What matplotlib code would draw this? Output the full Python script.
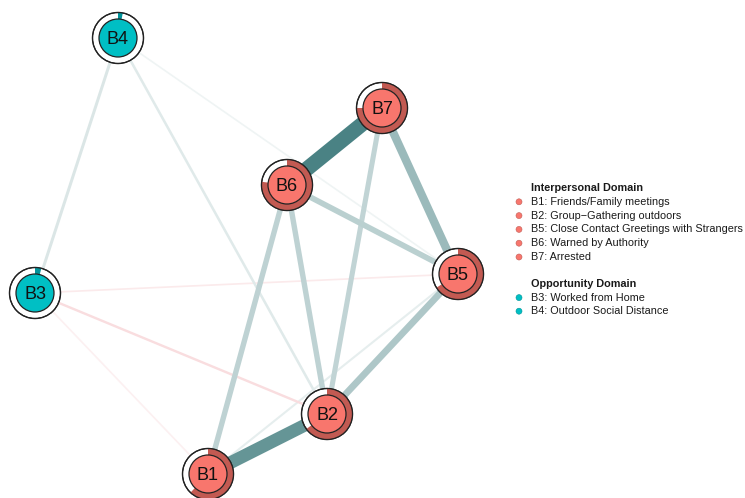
import matplotlib
matplotlib.use("Agg")
import matplotlib.pyplot as plt
from matplotlib.patches import Circle, Wedge
import numpy as np

plt.rcParams['font.family'] = ['Liberation Sans', 'DejaVu Sans']

# Nodes
nodes = ["B1", "B2", "B3", "B4", "B5", "B6", "B7"]
groups = ["Interpersonal", "Interpersonal", "Opportunity", "Opportunity",
          "Interpersonal", "Interpersonal", "Interpersonal"]
# layout (pixel space)
node_x = [208, 327, 35, 118, 458, 287, 382]
node_y = [474, 414, 293, 38, 274, 185, 108]
# pie (ring) values
pie_values = [0.62, 0.65, 0.04, 0.03, 0.66, 0.77, 0.75]

# Edges (weights)
edge_from = ["B6", "B1", "B7", "B2", "B6", "B6", "B6", "B7", "B4", "B4", "B1", "B4", "B3", "B3", "B3"]
edge_to   = ["B7", "B2", "B5", "B5", "B5", "B1", "B2", "B2", "B3", "B2", "B5", "B5", "B5", "B2", "B1"]
edge_w    = [1.00, 0.85, 0.55, 0.45, 0.38, 0.36, 0.36, 0.34, 0.20, 0.17, 0.14, 0.09, -0.10, -0.16, -0.07]

# Legend
legend_titles = ["Interpersonal Domain", "Opportunity Domain"]
legend_inter = ["B1: Friends/Family meetings", "B2: Group\u2212Gathering outdoors",
                "B5: Close Contact Greetings with Strangers", "B6: Warned by Authority",
                "B7: Arrested"]
legend_opp = ["B3: Worked from Home", "B4: Outdoor Social Distance"]

fill_col = {"Interpersonal": "#F8766D", "Opportunity": "#00BFC4"}
ring_col = {"Interpersonal": "#C25A52", "Opportunity": "#00939A"}
pos_dark = np.array([0x4a, 0x82, 0x84]) / 255.0
neg_dark = np.array([0xe0, 0x50, 0x58]) / 255.0

fig = plt.figure(figsize=(7.45, 4.98), dpi=100)
ax = fig.add_axes([0, 0, 1, 1])
ax.set_xlim(0, 745)
ax.set_ylim(498, 0)
ax.set_aspect('equal')
ax.axis('off')

idx = {n: i for i, n in enumerate(nodes)}

# draw edges, weakest first
order = np.argsort(np.abs(edge_w))
for k in order:
    a, b, w = edge_from[k], edge_to[k], edge_w[k]
    i, j = idx[a], idx[b]
    t = abs(w)
    dark = pos_dark if w > 0 else neg_dark
    if w < 0:
        t = t * 1.2
    col = (1 - t) * np.ones(3) + t * dark
    lw = max(abs(w) * 15 * 0.72, 1.2)
    ax.plot([node_x[i], node_x[j]], [node_y[i], node_y[j]], color=col, lw=lw,
            solid_capstyle='butt', zorder=1)

R_out = 25.5
R_in = 19
for i, n in enumerate(nodes):
    x, y = node_x[i], node_y[i]
    g = groups[i]
    ax.add_patch(Circle((x, y), R_out, facecolor='white', edgecolor='#222222', lw=0.9, zorder=3))
    frac = pie_values[i]
    ax.add_patch(Wedge((x, y), R_out, -90, -90 + 360 * frac, width=R_out - R_in,
                       facecolor=ring_col[g], edgecolor='none', zorder=4))
    ax.add_patch(Circle((x, y), R_out, facecolor='none', edgecolor='#222222', lw=0.9, zorder=5))
    ax.add_patch(Circle((x, y), R_in, facecolor=fill_col[g], edgecolor='#222222', lw=0.9, zorder=5))
    ax.text(x, y + 1, n, ha='center', va='center', fontsize=13, color='#111111', zorder=6)

# legend
lx_dot, lx_txt = 519, 531
fs = 7.85
y0 = 188
ax.text(lx_txt, y0, legend_titles[0], fontsize=fs, fontweight='bold', va='center', color='#1a1a1a')
for k, lab in enumerate(legend_inter):
    yy = y0 + 13.8 * (k + 1)
    ax.add_patch(Circle((lx_dot, yy), 3, facecolor=fill_col["Interpersonal"], edgecolor='#c06058', lw=0.4))
    ax.text(lx_txt, yy, lab, fontsize=fs, va='center', color='#1a1a1a')
y1 = 284
ax.text(lx_txt, y1, legend_titles[1], fontsize=fs, fontweight='bold', va='center', color='#1a1a1a')
for k, lab in enumerate(legend_opp):
    yy = y1 + 13.6 * (k + 1)
    ax.add_patch(Circle((lx_dot, yy), 3, facecolor=fill_col["Opportunity"], edgecolor='#00959a', lw=0.4))
    ax.text(lx_txt, yy, lab, fontsize=fs, va='center', color='#1a1a1a')

fig.savefig("out.png", dpi=100, facecolor='white')
